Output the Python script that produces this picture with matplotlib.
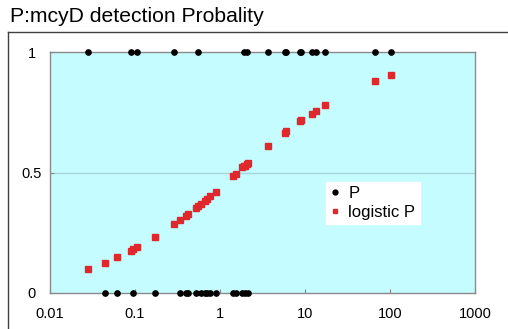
import numpy as np
import matplotlib.pyplot as plt
from matplotlib.lines import Line2D

# concentration values, observed detection (0/1) and logistic fit
conc = [0.0278, 0.0444, 0.0614, 0.0897, 0.0955, 0.1047, 0.1734, 0.2897,
        0.341, 0.394, 0.424, 0.518, 0.556, 0.593, 0.665, 0.700, 0.762,
        0.889, 1.433, 1.530, 1.815, 1.92, 1.95, 2.10, 2.13, 3.70, 5.82,
        6.03, 8.73, 8.97, 12.0, 13.4, 17.3, 66.1, 102.8]
p_obs = [1, 0, 0, 1, 0, 1, 0, 1,
         0, 0, 0, 0, 1, 0, 0, 0, 0,
         0, 0, 0, 0, 1, 0, 1, 0, 1, 1,
         1, 1, 1, 1, 1, 1, 1, 1]
p_logit = [0.101, 0.126, 0.148, 0.176, 0.183, 0.190, 0.231, 0.286,
           0.303, 0.321, 0.329, 0.353, 0.362, 0.369, 0.383, 0.390, 0.402,
           0.420, 0.485, 0.494, 0.522, 0.527, 0.529, 0.536, 0.538, 0.610, 0.665,
           0.671, 0.712, 0.717, 0.744, 0.756, 0.781, 0.881, 0.903]

yticks = [0, 0.5, 1]
ytick_labels = ['0', '0.5', '1']
xticks = [0.01, 0.1, 1, 10, 100, 1000]
xtick_labels = ['0.01', '0.1', '1', '10', '100', '1000']

plt.rcParams['font.family'] = ['Liberation Sans', 'DejaVu Sans']

fig = plt.figure(figsize=(5.08, 3.29), dpi=100)
ax = fig.add_axes([50/508, 1-293/329, 425/508, 241/329])
ax.set_facecolor('#c4fcff')

ax.set_xscale('log')
ax.set_xlim(0.01, 1000)
ax.set_ylim(0, 1)
ax.axhline(0.5, color='#a6d6da', lw=1, zorder=1)

ax.plot(conc, p_obs, 'o', color='black', ms=3.8, clip_on=False, zorder=4)
ax.plot(conc, p_logit, 's', color='#e0282c', ms=3.8, mec='#e0282c', zorder=3)

ax.set_xticks(xticks)
ax.set_xticklabels(xtick_labels)
ax.xaxis.set_minor_locator(plt.NullLocator())
ax.set_yticks(yticks)
ax.set_yticklabels(ytick_labels, ha='center')
ax.tick_params(direction='in', length=3, color='#888888', labelsize=10.5)
ax.tick_params(axis='x', pad=10)
ax.tick_params(axis='y', pad=13)
for s in ax.spines.values():
    s.set_color('#8a8a8a')
    s.set_linewidth(1)

handles = [Line2D([], [], marker='o', ls='', color='black', ms=3.5),
           Line2D([], [], marker='s', ls='', color='#e0282c', ms=3.5)]
leg = ax.legend(handles, ['P', 'logistic P'], loc='upper left',
                bbox_to_anchor=(326/508, 1-182/329), bbox_transform=fig.transFigure,
                frameon=True, fancybox=False, edgecolor='white', framealpha=1,
                fontsize=12, handlelength=0.6, handletextpad=0.5,
                borderpad=0.25, labelspacing=0.2, borderaxespad=0)

# chart area border (top and left edges)
fig.add_artist(Line2D([8/508, 1], [1-32/329, 1-32/329], color='#404040', lw=1,
                      transform=fig.transFigure))
fig.add_artist(Line2D([8/508, 8/508], [0, 1-32/329], color='#404040', lw=1,
                      transform=fig.transFigure))

fig.text(10/508, 1-17/329, 'P:mcyD detection Probality', fontsize=15.2,
         ha='left', va='center')

fig.savefig('out.png', dpi=100)
